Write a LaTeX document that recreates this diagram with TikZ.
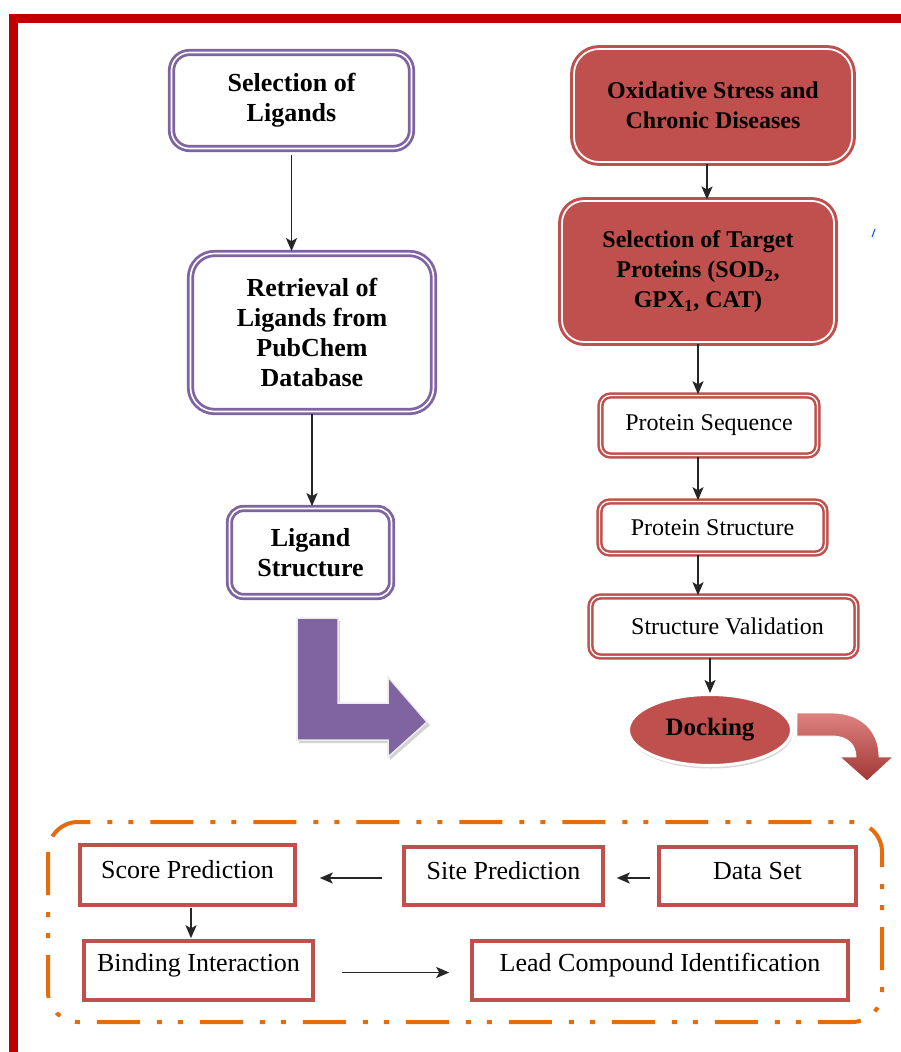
\documentclass[tikz,border=0pt]{standalone}
\usepackage{fontspec}
\setmainfont{Liberation Serif}
\usetikzlibrary{shapes.geometric,arrows.meta,shadows,calc}
\definecolor{purp}{RGB}{128,100,162}
\definecolor{redc}{RGB}{192,80,77}
\definecolor{framered}{RGB}{192,0,0}
\definecolor{orng}{RGB}{228,108,10}
\definecolor{redlight}{RGB}{222,130,128}
\definecolor{reddark}{RGB}{160,55,52}
\begin{document}
\begin{tikzpicture}[x=1pt,y=-1pt,
  purpbox/.style={rectangle, rounded corners=18pt, draw=purp, line width=2.8pt,
    double=white, double distance=1.6pt, fill=white, align=center, inner sep=0pt,
    font=\fontsize{26}{30}\selectfont\bfseries},
  redfill/.style={rectangle, rounded corners=22pt, draw=redc, fill=redc, line width=3pt,
    double=white, double distance=1.8pt, align=center, inner sep=0pt,
    font=\fontsize{24}{30}\selectfont\bfseries},
  redbox/.style={rectangle, rounded corners=10pt, draw=redc, fill=white, line width=2.5pt,
    double=white, double distance=1.3pt, align=center, inner sep=0pt,
    font=\fontsize{24}{30}\selectfont},
  plainbox/.style={rectangle, draw=redc, fill=white, line width=3.5pt, align=center,
    inner sep=0pt, font=\fontsize{26}{30}\selectfont},
  arr/.style={-{Stealth[length=13pt,width=11pt,inset=3pt]}, line width=1.8pt, black!85}
]
\useasboundingbox (0,0) rectangle (901,1052);
\fill[white] (0,0) rectangle (901,1052);

% outer red frame
\draw[framered, line width=9pt, line join=miter] (13,1052) -- (13,18) -- (901,18);

% orange dash-dot-dot region
\draw[orng, line width=4pt, rounded corners=30pt,
  dash pattern=on 43pt off 17pt on 5pt off 16pt on 5pt off 17pt]
  (48,822) rectangle (882,1022);

% left column
\node[purpbox, minimum width=240pt, minimum height=96pt] (sel) at (291.5,100.5) {Selection of\\Ligands};
\node[purpbox, rounded corners=24pt, minimum width=243pt, minimum height=158pt] (ret) at (312,332.5) {Retrieval of\\Ligands from\\PubChem\\Database};
\node[purpbox, rounded corners=14pt, minimum width=162pt, minimum height=88pt] (lig) at (310.5,552.5) {Ligand\\Structure};

\draw[arr, shorten <=5pt, shorten >=1pt] (sel.south) -- (sel.south |- ret.north);
\draw[arr, shorten <=1pt, shorten >=1pt] (ret.south) -- (ret.south |- lig.north);

% purple L arrow
\fill[gray!35] (299,621) -- (340,621) -- (340,706) -- (390,706) -- (390,680) -- (430,725) -- (390,760) -- (390,743) -- (299,743) -- cycle;
\fill[purp, draw=gray!15, line width=1.5pt] (297,618) -- (338,618) -- (338,703) -- (388,703) -- (388,677) -- (427,722) -- (388,757) -- (388,740) -- (297,740) -- cycle;

% right column
\node[redfill, rounded corners=25pt, minimum width=278pt, minimum height=113pt] (ox) at (713,105.5) {Oxidative Stress and\\Chronic Diseases};
\node[redfill, minimum width=272pt, minimum height=141pt] (tgt) at (698,271.5) {Selection of Target\\Proteins (SOD\textsubscript{2},\\GPX\textsubscript{1}, CAT)};
\node[redbox, minimum width=217pt, minimum height=60pt] (seq) at (709,425.5) {Protein Sequence};
\node[redbox, minimum width=226pt, minimum height=52pt] (str) at (712.5,527.5) {Protein Structure};
\node[redbox, minimum width=266pt, minimum height=60pt] (sv) at (723.5,626.5) {\hspace*{8pt}Structure Validation};
\node[ellipse, fill=redc, draw=white, line width=3pt, minimum width=163pt, minimum height=71pt,
  inner sep=0pt, font=\fontsize{25}{30}\selectfont\bfseries,
  drop shadow={shadow xshift=1pt, shadow yshift=-3pt, fill=gray!60}] (dock) at (710,730) {Docking};

\draw[arr] (ox.south -| 707,0) -- (707,0 |- tgt.north);
\draw[arr] (tgt.south) -- (tgt.south |- seq.north);
\draw[arr] (seq.south -| tgt.south) -- (tgt.south |- str.north);
\draw[arr] (str.south -| tgt.south) -- (tgt.south |- sv.north);
\draw[arr] (sv.south -| dock.north) -- (dock.north);

% curved red arrow
\shade[top color=redlight, bottom color=reddark, draw=white, line width=0.8pt]
  (797,713) -- (832,713) .. controls (860,713) and (879,730) .. (879,757)
  -- (893,757) -- (867,781) -- (840,757) -- (856,757)
  .. controls (856,745) and (848,736) .. (832,736) -- (797,736) -- cycle;

% stray mark
\draw[blue!70!cyan, line width=1pt] (872,237) -- (875,229);

% bottom process
\node[plainbox, minimum width=215pt, minimum height=60pt] (score) at (187.5,875) {\raisebox{5pt}[\height][\depth]{Score Prediction}};
\node[plainbox, minimum width=199pt, minimum height=58pt] (site) at (503.5,876) {\raisebox{5pt}[\height][\depth]{Site Prediction}};
\node[plainbox, minimum width=197pt, minimum height=58pt] (data) at (757.5,876) {\raisebox{5pt}[\height][\depth]{Data Set}};
\node[plainbox, minimum width=229pt, minimum height=59pt] (bind) at (198.5,970.5) {\raisebox{5pt}[\height][\depth]{Binding Interaction}};
\node[plainbox, minimum width=376pt, minimum height=59pt] (lead) at (660,970.5) {\raisebox{5pt}[\height][\depth]{Lead Compound Identification}};

\draw[arr, shorten <=20pt, shorten >=23pt] ([yshift=-2pt]site.west) -- ([yshift=-2pt]site.west -| score.east);
\draw[arr, shorten <=7pt, shorten >=12pt] ([yshift=-2pt]data.west) -- ([yshift=-2pt]data.west -| site.east);
\draw[arr, shorten <=1pt, shorten >=1pt] (score.south -| 191,0) -- (191,0 |- bind.north);
\draw[arr, shorten <=27pt, shorten >=21pt] ([yshift=-2pt]bind.east) -- ([yshift=-2pt]bind.east -| lead.west);
\end{tikzpicture}
\end{document}
